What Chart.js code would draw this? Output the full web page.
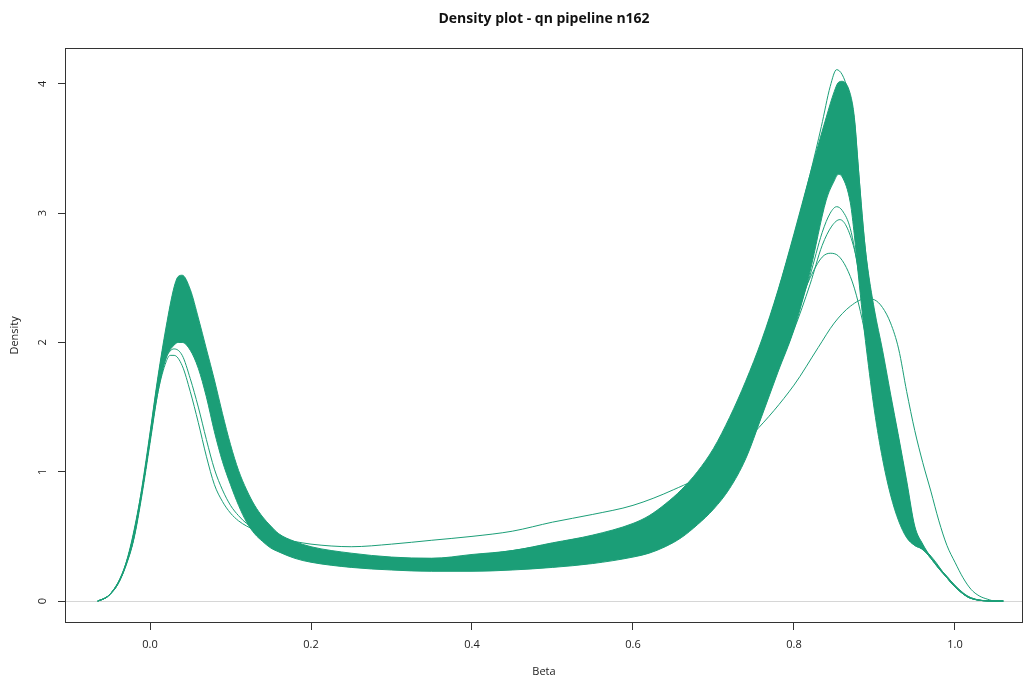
<!DOCTYPE html>
<html>
<head>
<meta charset="utf-8">
<title>Density plot - qn pipeline n162</title>
<script src="https://cdn.jsdelivr.net/npm/chart.js@4.4.1/dist/chart.umd.min.js"></script>
<style>
  html, body { margin: 0; padding: 0; background: #fff; }
  #wrap { width: 1023px; height: 677px; }
</style>
</head>
<body>
<div id="wrap"><canvas id="density"></canvas></div>
<script>
// beta values shared by the band envelope
const betaGrid = [-0.065, -0.06, -0.05, -0.04, -0.03, -0.02, -0.01, 0, 0.01, 0.02,
  0.03, 0.035, 0.04, 0.05, 0.06, 0.07, 0.08, 0.09, 0.1, 0.11,
  0.12, 0.13, 0.14, 0.15, 0.16, 0.18, 0.2, 0.25, 0.3, 0.35,
  0.4, 0.45, 0.5, 0.55, 0.6, 0.62, 0.64, 0.66, 0.68, 0.7,
  0.72, 0.74, 0.76, 0.78, 0.8, 0.82, 0.84, 0.85, 0.855, 0.86,
  0.87, 0.875, 0.88, 0.885, 0.89, 0.9, 0.91, 0.92, 0.93, 0.94,
  0.95, 0.96, 0.97, 0.98, 0.99, 1, 1.01, 1.02, 1.03, 1.04,
  1.05, 1.06];

// upper / lower edge of the bulk of the 162 sample densities
const bandHigh = [0, 0.01, 0.05, 0.14, 0.29, 0.52, 0.88, 1.3, 1.74, 2.12,
  2.43, 2.51, 2.52, 2.41, 2.19, 1.95, 1.71, 1.45, 1.21, 1.01,
  0.86, 0.74, 0.65, 0.58, 0.52, 0.46, 0.42, 0.37, 0.34, 0.33,
  0.36, 0.39, 0.45, 0.51, 0.6, 0.66, 0.75, 0.86, 1.0, 1.18,
  1.42, 1.7, 2.02, 2.4, 2.84, 3.3, 3.74, 3.94, 4.01, 4.02,
  3.92, 3.74, 3.35, 2.95, 2.65, 2.25, 1.94, 1.6, 1.27, 0.93,
  0.58, 0.44, 0.34, 0.26, 0.19, 0.12, 0.06, 0.025, 0.008, 0.002,
  0, 0];
const bandLow = [0, 0.01, 0.05, 0.13, 0.27, 0.48, 0.82, 1.22, 1.62, 1.88,
  1.98, 2.0, 2.0, 1.94, 1.8, 1.58, 1.31, 1.08, 0.9, 0.74,
  0.61, 0.52, 0.46, 0.41, 0.38, 0.33, 0.3, 0.26, 0.24, 0.23,
  0.23, 0.24, 0.26, 0.29, 0.34, 0.37, 0.42, 0.49, 0.59, 0.71,
  0.87, 1.1, 1.43, 1.77, 2.1, 2.55, 3.1, 3.25, 3.3, 3.28,
  3.08, 2.83, 2.52, 2.22, 1.95, 1.47, 1.1, 0.82, 0.62, 0.49,
  0.43, 0.4, 0.33, 0.25, 0.18, 0.11, 0.055, 0.02, 0.006, 0.002,
  0, 0];

// samples that stand apart from the bulk, [beta, density]
const sampleBroad = [[-0.065, 0], [-0.06, 0.01], [-0.05, 0.05], [-0.04, 0.13], [-0.03, 0.28],
  [-0.02, 0.49], [-0.01, 0.84], [0, 1.24], [0.01, 1.62], [0.02, 1.85], [0.025, 1.9],
  [0.03, 1.9], [0.04, 1.82], [0.05, 1.62], [0.06, 1.38], [0.07, 1.12], [0.08, 0.9],
  [0.09, 0.77], [0.1, 0.68], [0.11, 0.62], [0.12, 0.58], [0.14, 0.52], [0.16, 0.48],
  [0.18, 0.46], [0.2, 0.44], [0.25, 0.42], [0.3, 0.44], [0.35, 0.47], [0.4, 0.5],
  [0.45, 0.54], [0.5, 0.61], [0.55, 0.67], [0.6, 0.74], [0.65, 0.86], [0.7, 1.02],
  [0.75, 1.3], [0.8, 1.67], [0.83, 1.96], [0.85, 2.15], [0.87, 2.28], [0.89, 2.34],
  [0.9, 2.33], [0.91, 2.27], [0.92, 2.15], [0.93, 1.95], [0.94, 1.62], [0.95, 1.32],
  [0.96, 1.07], [0.97, 0.85], [0.98, 0.62], [0.99, 0.43], [1, 0.3], [1.01, 0.18],
  [1.02, 0.09], [1.03, 0.04], [1.04, 0.015], [1.05, 0], [1.06, 0]];
const sampleLowPeak = [[-0.065, 0], [-0.06, 0.01], [-0.05, 0.05], [-0.04, 0.13], [-0.03, 0.28],
  [-0.02, 0.49], [-0.01, 0.85], [0, 1.25], [0.01, 1.64], [0.02, 1.88], [0.03, 1.95],
  [0.04, 1.9], [0.05, 1.72], [0.06, 1.5], [0.07, 1.25], [0.08, 1.02], [0.09, 0.86],
  [0.1, 0.74], [0.11, 0.66], [0.12, 0.6], [0.14, 0.52], [0.16, 0.46], [0.18, 0.42],
  [0.2, 0.39], [0.25, 0.35], [0.3, 0.33], [0.35, 0.33], [0.4, 0.35], [0.45, 0.39],
  [0.5, 0.44], [0.55, 0.5], [0.6, 0.58], [0.65, 0.76], [0.7, 1.08], [0.75, 1.55],
  [0.8, 2.2], [0.82, 2.5], [0.835, 2.66], [0.845, 2.69], [0.855, 2.67], [0.865, 2.58],
  [0.875, 2.42], [0.885, 2.17], [0.895, 1.85], [0.905, 1.48], [0.915, 1.12], [0.925, 0.82],
  [0.935, 0.6], [0.945, 0.47], [0.955, 0.42], [0.965, 0.37], [0.975, 0.3], [0.99, 0.18],
  [1, 0.11], [1.02, 0.02], [1.05, 0], [1.06, 0]];
const samplePeak305 = [[-0.065, 0], [-0.05, 0.05], [-0.03, 0.28], [-0.01, 0.85], [0.01, 1.68],
  [0.02, 2.0], [0.035, 2.2], [0.05, 2.1], [0.07, 1.75], [0.09, 1.28], [0.11, 0.88],
  [0.13, 0.63], [0.15, 0.5], [0.18, 0.4], [0.2, 0.36], [0.25, 0.31], [0.3, 0.29],
  [0.35, 0.28], [0.4, 0.29], [0.45, 0.31], [0.5, 0.35], [0.55, 0.4], [0.6, 0.48],
  [0.65, 0.65], [0.7, 0.98], [0.75, 1.45], [0.8, 2.15], [0.82, 2.52], [0.835, 2.85],
  [0.845, 3.0], [0.853, 3.05], [0.86, 3.02], [0.87, 2.88], [0.88, 2.55], [0.89, 2.1],
  [0.9, 1.65], [0.91, 1.25], [0.92, 0.92], [0.93, 0.66], [0.94, 0.5], [0.95, 0.43],
  [0.96, 0.4], [0.97, 0.33], [0.98, 0.25], [0.99, 0.18], [1, 0.11], [1.02, 0.02],
  [1.05, 0], [1.06, 0]];
const samplePeak295 = [[-0.065, 0], [-0.05, 0.05], [-0.03, 0.28], [-0.01, 0.85], [0.01, 1.68],
  [0.02, 1.98], [0.035, 2.15], [0.05, 2.05], [0.07, 1.7], [0.09, 1.25], [0.11, 0.86],
  [0.13, 0.62], [0.15, 0.49], [0.18, 0.39], [0.2, 0.35], [0.25, 0.3], [0.3, 0.28],
  [0.35, 0.27], [0.4, 0.28], [0.45, 0.3], [0.5, 0.34], [0.55, 0.39], [0.6, 0.46],
  [0.65, 0.62], [0.7, 0.94], [0.75, 1.4], [0.8, 2.1], [0.82, 2.45], [0.835, 2.75],
  [0.847, 2.9], [0.857, 2.95], [0.865, 2.9], [0.875, 2.72], [0.885, 2.4], [0.895, 1.98],
  [0.905, 1.55], [0.915, 1.15], [0.925, 0.82], [0.935, 0.6], [0.945, 0.47], [0.955, 0.42],
  [0.965, 0.38], [0.975, 0.31], [0.99, 0.18], [1, 0.11], [1.02, 0.02], [1.05, 0], [1.06, 0]];
const sampleTop = [[-0.065, 0], [-0.05, 0.05], [-0.03, 0.29], [-0.01, 0.87], [0.01, 1.72],
  [0.02, 2.08], [0.035, 2.4], [0.05, 2.3], [0.07, 1.9], [0.09, 1.4], [0.11, 0.98],
  [0.13, 0.72], [0.15, 0.56], [0.18, 0.44], [0.2, 0.4], [0.25, 0.34], [0.3, 0.31],
  [0.35, 0.3], [0.4, 0.31], [0.45, 0.34], [0.5, 0.38], [0.55, 0.44], [0.6, 0.52],
  [0.65, 0.72], [0.7, 1.12], [0.75, 1.82], [0.8, 2.82], [0.82, 3.3], [0.834, 3.67],
  [0.845, 3.98], [0.853, 4.11], [0.86, 4.07], [0.867, 3.95], [0.875, 3.72], [0.88, 3.34],
  [0.89, 2.64], [0.9, 2.22], [0.91, 1.9], [0.92, 1.57], [0.93, 1.25], [0.94, 0.9],
  [0.95, 0.56], [0.96, 0.43], [0.97, 0.34], [0.98, 0.26], [0.99, 0.19], [1, 0.12],
  [1.02, 0.025], [1.05, 0], [1.06, 0]];

const xTicks = [0, 0.2, 0.4, 0.6, 0.8, 1.0];
const yTicks = [0, 1, 2, 3, 4];

const GREEN = "#1B9E77";
const FONT = "'Open Sans', 'DejaVu Sans', sans-serif";

const toPoints = (pairs) => pairs.map(([x, y]) => ({ x, y }));

function curve(label, data, extra = {}) {
  return Object.assign({
    label,
    data,
    borderColor: GREEN,
    backgroundColor: GREEN,
    borderWidth: 1,
    pointRadius: 0,
    fill: false,
    cubicInterpolationMode: "monotone",
  }, extra);
}

// R style box around the plotting region
const plotFrame = {
  id: "plotFrame",
  afterDraw(chart) {
    const { ctx, chartArea: a } = chart;
    ctx.save();
    ctx.strokeStyle = "#333";
    ctx.lineWidth = 1;
    ctx.strokeRect(Math.round(a.left) + 0.5, Math.round(a.top) + 0.5,
      Math.round(a.right - a.left) - 1, Math.round(a.bottom - a.top) - 1);
    ctx.restore();
  },
};

Chart.defaults.font.family = FONT;
Chart.defaults.color = "#222";

new Chart(document.getElementById("density"), {
  type: "line",
  data: {
    datasets: [
      curve("bulk low", betaGrid.map((x, i) => ({ x, y: bandLow[i] }))),
      curve("bulk high", betaGrid.map((x, i) => ({ x, y: bandHigh[i] })), { fill: "-1" }),
      curve("broad", toPoints(sampleBroad)),
      curve("low peak", toPoints(sampleLowPeak)),
      curve("peak 3.05", toPoints(samplePeak305)),
      curve("peak 2.95", toPoints(samplePeak295)),
      curve("top", toPoints(sampleTop)),
    ],
  },
  options: {
    responsive: true,
    maintainAspectRatio: false,
    animation: false,
    layout: { padding: { left: 0, right: 0, top: 0, bottom: 0 } },
    scales: {
      x: {
        type: "linear",
        min: -0.1056,
        max: 1.0845,
        afterBuildTicks: (axis) => { axis.ticks = xTicks.map((v) => ({ value: v })); },
        afterFit: (axis) => { axis.height = 54; },
        border: { display: false },
        grid: { drawOnChartArea: false, drawTicks: true, tickLength: 7, tickColor: "#333" },
        ticks: {
          autoSkip: false,
          maxRotation: 0,
          padding: 8,
          font: { size: 11 },
          callback: (v) => Number(v).toFixed(1),
        },
        title: {
          display: true,
          text: "Beta",
          font: { size: 11, lineHeight: 1 },
          padding: { top: 0, bottom: 0 },
        },
      },
      y: {
        type: "linear",
        min: -0.17,
        max: 4.279,
        afterBuildTicks: (axis) => { axis.ticks = yTicks.map((v) => ({ value: v })); },
        afterFit: (axis) => { axis.width = 65; },
        border: { display: false },
        grid: {
          drawOnChartArea: true,
          tickLength: 7,
          tickColor: "#333",
          color: (c) => (c.tick && c.tick.value === 0 ? "#d6d6d6" : "rgba(0,0,0,0)"),
        },
        ticks: {
          autoSkip: false,
          minRotation: 90,
          maxRotation: 90,
          crossAlign: "center",
          padding: 12,
          font: { size: 11 },
        },
        title: {
          display: true,
          text: "Density",
          font: { size: 11, lineHeight: 1 },
          padding: { top: 9, bottom: 0 },
        },
      },
    },
    plugins: {
      legend: { display: false },
      tooltip: { enabled: false },
      title: {
        display: true,
        text: "Density plot - qn pipeline n162",
        fullSize: false,
        color: "#111",
        font: { size: 14, weight: "bold", lineHeight: 1.2 },
        padding: { top: 11, bottom: 20 },
      },
    },
  },
  plugins: [plotFrame],
});
</script>
</body>
</html>
